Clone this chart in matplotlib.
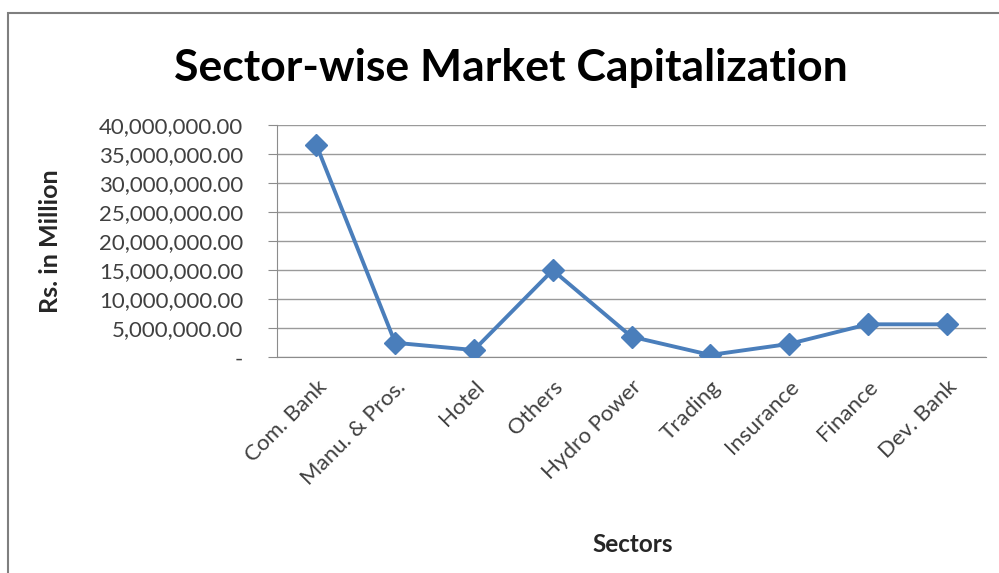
import matplotlib
matplotlib.use("Agg")
import matplotlib.pyplot as plt
from matplotlib.patches import Rectangle

sectors = ["Com. Bank", "Manu. & Pros.", "Hotel", "Others", "Hydro Power",
           "Trading", "Insurance", "Finance", "Dev. Bank"]
market_cap = [36550000, 2500000, 1250000, 15000000, 3550000,
              400000, 2300000, 5680000, 5680000]
y_ticks = [0, 5000000, 10000000, 15000000, 20000000, 25000000,
           30000000, 35000000, 40000000]

plt.rcParams['font.family'] = ['Lato', 'DejaVu Sans']

W, H = 999, 573
fig = plt.figure(figsize=(W / 100, H / 100), dpi=100)
fig.patch.set_facecolor('white')

# outer chart border (extends beyond right/bottom of image)
fig.patches.append(Rectangle((8 / W, -0.05), 1.2, 1 - 13 / H + 0.05,
                             transform=fig.transFigure, fill=False,
                             edgecolor='#7f7f7f', linewidth=1.5))

ax = fig.add_axes([277 / W, 1 - 357.3 / H, (986 - 277) / W, (357.3 - 125) / H])
x = list(range(len(sectors)))
ax.plot(x, market_cap, color='#4A7EBB', linewidth=2.8, marker='D',
        markersize=11.5, markerfacecolor='#4A7EBB', markeredgecolor='#4A7EBB',
        zorder=3)

ax.set_xlim(-0.5, len(sectors) - 0.5)
ax.set_ylim(0, 40000000)
ax.set_yticks(y_ticks)
ax.set_yticklabels(["-"] + [f"{v:,.2f}" for v in y_ticks[1:]])
ax.yaxis.grid(True, color='#9a9a9a', linewidth=1.0)
ax.set_axisbelow(True)
ax.set_xticks(x)
ax.set_xticklabels(sectors, rotation=45, ha='right', rotation_mode='anchor')

for s in ['top', 'right']:
    ax.spines[s].set_visible(False)
ax.spines['left'].set_color('#8c8c8c')
ax.spines['bottom'].set_color('#8c8c8c')

ax.tick_params(axis='y', length=6.5, direction='out', color='#8c8c8c',
               labelsize=16, labelcolor='#404040', pad=18)
ax.tick_params(axis='x', length=0, labelsize=16, labelcolor='#404040', pad=14)

ax.set_ylabel("Rs. in Million", fontsize=18, fontweight='bold', color='#262626')
ax.yaxis.set_label_coords((62 - 277) / (986 - 277), 0.5)
ax.set_xlabel("Sectors", fontsize=17.5, fontweight='bold', color='#262626')
ax.xaxis.set_label_coords((633 - 277) / (986 - 277), -(533 - 357.3) / (357.3 - 125))

fig.text(511 / W, 1 - 68 / H, "Sector-wise Market Capitalization",
         ha='center', va='center', fontsize=32, fontweight='bold', color='black')

fig.savefig("out.png", dpi=100)
